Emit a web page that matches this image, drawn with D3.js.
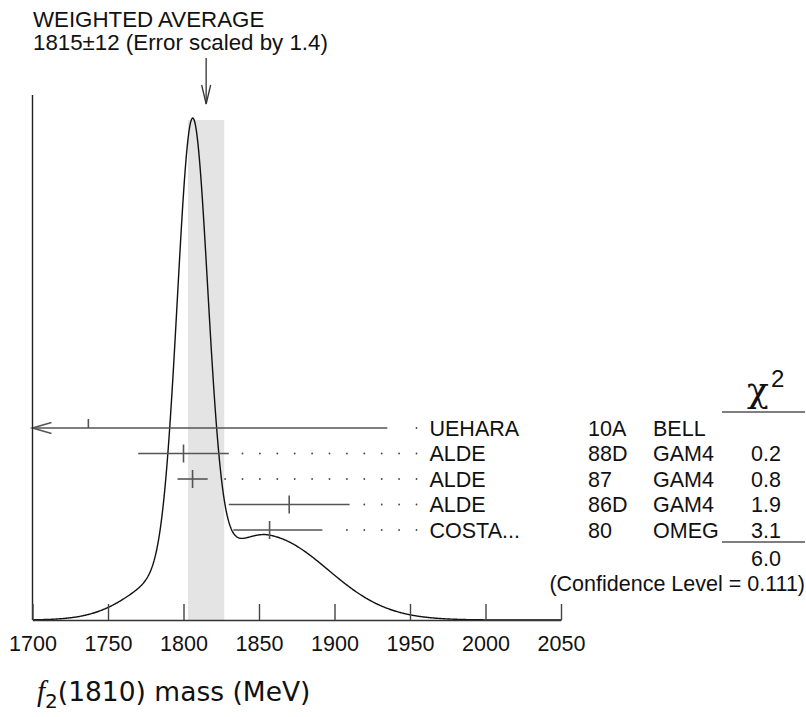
<!DOCTYPE html>
<html>
<head>
<meta charset="utf-8">
<script src="https://cdn.jsdelivr.net/npm/d3@7"></script>
<style>
  body { margin: 0; background: #fff; }
  text { font-family: "Liberation Sans", Arial, Helvetica, sans-serif; fill: #111; }
</style>
</head>
<body>
<svg id="chart" width="806" height="717"></svg>
<script>
// measurements (PDG style ideogram)
const authors = ["UEHARA", "ALDE", "ALDE", "ALDE", "COSTA..."];
const years = ["10A", "88D", "87", "86D", "80"];
const techs = ["BELL", "GAM4", "GAM4", "GAM4", "OMEG"];
const values = [1737, 1800, 1806, 1870, 1857];
const errLow = [65, 30, 10, 40, 24];
const errHigh = [198, 30, 10, 40, 35];
const chi2 = [null, 0.2, 0.8, 1.9, 3.1];
const used = [false, true, true, true, true];

const xTicks = [1700, 1750, 1800, 1850, 1900, 1950, 2000, 2050];
const average = 1815;
const averageErr = 12;
const scaleFactor = 1.4;
const chi2Total = "6.0";
const confLevel = "0.111";

const svg = d3.select("#chart");
svg.append("rect").attr("width", 806).attr("height", 717).attr("fill", "#fff");

const x = d3.scaleLinear().domain([1700, 2050]).range([32.5, 561]);
const baseY = 620;
const rowY = d3.scaleLinear().domain([0, authors.length - 1]).range([428, 530]);

// ideogram: each used measurement is a gaussian with area ~ 1/sigma
const ideogram = m => {
  let s = 0;
  values.forEach((v, i) => {
    if(!used[i]) return;
    const sAvg = (errLow[i] + errHigh[i]) / 2;
    const sig = m < v ? errLow[i] : errHigh[i];
    s += Math.exp(-((m - v) ** 2) / (2 * sig * sig)) / (sAvg * sAvg);
  });
  return s;
};
const masses = d3.range(1700, 2050.01, 0.5);
const dens = masses.map(ideogram);
const y = d3.scaleLinear().domain([0, d3.max(dens)]).range([baseY, 118]);

// weighted average band
svg.append("rect")
  .attr("x", x(average - averageErr))
  .attr("y", 120)
  .attr("width", x(average + averageErr) - x(average - averageErr))
  .attr("height", baseY - 120)
  .attr("fill", "#e4e4e4");

svg.append("path")
  .datum(masses)
  .attr("d", d3.line().x(d => x(d)).y((d, i) => y(dens[i])))
  .attr("fill", "none")
  .attr("stroke", "#111")
  .attr("stroke-width", 1.4);

// error bars
const bars = svg.append("g").attr("stroke", "#555").attr("stroke-width", 1.6).attr("fill", "none");
values.forEach((v, i) => {
  const yy = rowY(i);
  const lo = v - errLow[i], hi = v + errHigh[i];
  const x1 = x(Math.max(lo, 1700)), x2 = x(hi);
  bars.append("line").attr("x1", x1).attr("x2", x2).attr("y1", yy).attr("y2", yy);
  if(lo < 1700){
    bars.append("polyline")
      .attr("points", `${x1 + 19},${yy - 5.5} ${x1},${yy} ${x1 + 19},${yy + 5.5}`);
  }
  bars.append("line")
    .attr("x1", x(v)).attr("x2", x(v))
    .attr("y1", yy - 9).attr("y2", used[i] ? yy + 9 : yy);

  // dotted leaders up to the label
  for(let k = 0; ; k++){
    const xd = 416.5 - k * 17.4;
    if(xd < x2 + 12) break;
    svg.append("circle").attr("cx", xd).attr("cy", yy).attr("r", 0.9).attr("fill", "#444");
  }
});

// table text
const rows = svg.append("g").attr("font-size", "21.5px");
authors.forEach((a, i) => {
  const yb = rowY(i) + 7.7;
  rows.append("text").attr("x", 429.5).attr("y", yb).text(a);
  rows.append("text").attr("x", 588).attr("y", yb).text(years[i]);
  rows.append("text").attr("x", 653).attr("y", yb).text(techs[i]);
  if(chi2[i] !== null){
    rows.append("text").attr("x", 781).attr("y", yb).attr("text-anchor", "end").text(chi2[i].toFixed(1));
  }
});

// chi2 header and total
svg.append("text").attr("x", 747).attr("y", 402)
  .style("font-family", "'DejaVu Serif', 'Liberation Serif', serif")
  .attr("font-size", "36px").text("χ");
svg.append("text").attr("x", 771).attr("y", 387).attr("font-size", "24px").text("2");
svg.append("line").attr("x1", 722).attr("x2", 805).attr("y1", 412).attr("y2", 412)
  .attr("stroke", "#555").attr("stroke-width", 1.6);
svg.append("line").attr("x1", 722).attr("x2", 805).attr("y1", 542).attr("y2", 542)
  .attr("stroke", "#555").attr("stroke-width", 1.6);
svg.append("text").attr("x", 781).attr("y", 565.7).attr("text-anchor", "end")
  .attr("font-size", "21.5px").text(chi2Total);
svg.append("text").attr("x", 805).attr("y", 590.7).attr("text-anchor", "end")
  .attr("font-size", "21.5px").text(`(Confidence Level = ${confLevel})`);

// title + arrow
svg.append("text").attr("x", 33).attr("y", 27).attr("font-size", "22.3px").text("WEIGHTED AVERAGE");
svg.append("text").attr("x", 33).attr("y", 50).attr("font-size", "22.3px")
  .text(`${average}±${averageErr} (Error scaled by ${scaleFactor})`);
const ax = x(average);
svg.append("line").attr("x1", ax).attr("x2", ax).attr("y1", 58).attr("y2", 104)
  .attr("stroke", "#333").attr("stroke-width", 1.3);
svg.append("polyline").attr("points", `${ax - 4.5},85 ${ax},104 ${ax + 4.5},85`)
  .attr("fill", "none").attr("stroke", "#333").attr("stroke-width", 1.3);

// axes
svg.append("line").attr("x1", x(1700)).attr("x2", x(1700)).attr("y1", 95).attr("y2", baseY)
  .attr("stroke", "#222").attr("stroke-width", 1.4);
const xAxis = svg.append("g")
  .attr("transform", `translate(0,${baseY})`)
  .call(d3.axisBottom(x).tickValues(xTicks).tickFormat(d3.format("d"))
    .tickSizeInner(-16).tickSizeOuter(0).tickPadding(15.4));
xAxis.select(".domain").attr("stroke", "#333").attr("stroke-width", 1.6);
xAxis.selectAll(".tick line").attr("stroke", "#444").attr("stroke-width", 1.4);
xAxis.selectAll(".tick text")
  .attr("font-size", "21.5px")
  .style("font-family", "'Liberation Sans', Arial, sans-serif")
  .attr("fill", "#111");

// x label
const xl = svg.append("text").attr("x", 37).attr("y", 701)
  .style("font-family", "'DejaVu Sans', sans-serif").attr("font-size", "26.5px").attr("fill", "#222");
xl.append("tspan").style("font-family", "'Liberation Serif', serif").style("font-style", "italic")
  .attr("font-size", "29px").text("f");
xl.append("tspan").attr("dy", 7).attr("font-size", "20px").text("2");
xl.append("tspan").attr("dy", -7).text("(1810) mass (MeV)");
</script>
</body>
</html>
